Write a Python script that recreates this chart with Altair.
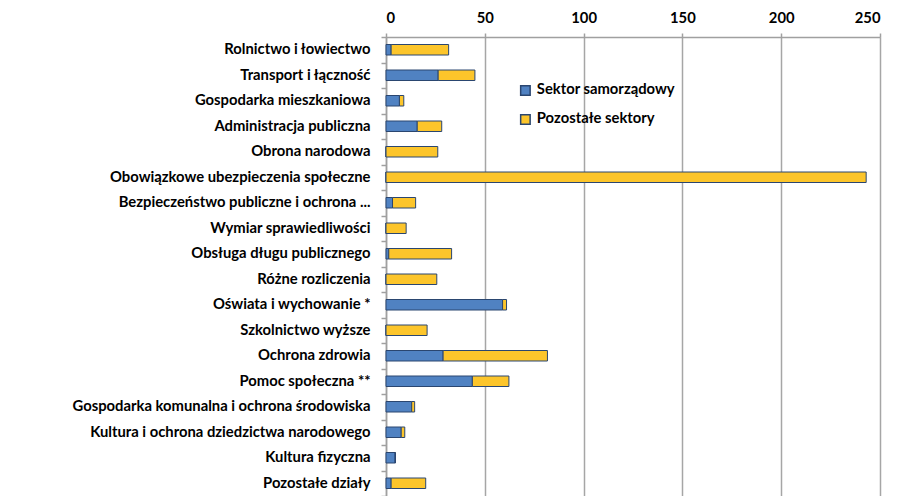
import altair as alt
import pandas as pd

categories = [
    "Rolnictwo i łowiectwo",
    "Transport i łączność",
    "Gospodarka mieszkaniowa",
    "Administracja publiczna",
    "Obrona narodowa",
    "Obowiązkowe ubezpieczenia społeczne",
    "Bezpieczeństwo publiczne i ochrona ...",
    "Wymiar sprawiedliwości",
    "Obsługa długu publicznego",
    "Różne rozliczenia",
    "Oświata i wychowanie *",
    "Szkolnictwo wyższe",
    "Ochrona zdrowia",
    "Pomoc społeczna **",
    "Gospodarka komunalna i ochrona środowiska",
    "Kultura i ochrona dziedzictwa narodowego",
    "Kultura fizyczna",
    "Pozostałe działy",
]
samorzadowy = [2.6, 26.4, 6.8, 15.8, 0.0, 0.0, 3.3, 0.0, 1.4, 0.0, 59.0, 0.0, 28.9, 43.7, 13.0, 7.7, 4.6, 2.6]
pozostale = [29.1, 18.6, 2.2, 12.4, 26.2, 243.0, 11.7, 10.2, 31.8, 25.7, 2.0, 20.8, 52.8, 18.5, 1.5, 1.8, 0.2, 17.5]

series_names = ["Sektor samorządowy", "Pozostałe sektory"]
series_colors = ["#5082C2", "#FCC52B"]
x_ticks = [0, 50, 100, 150, 200, 250]

rows = []
for i, c in enumerate(categories):
    rows.append({"kat": c, "seria": series_names[0], "wartosc": samorzadowy[i], "ord": 0})
    rows.append({"kat": c, "seria": series_names[1], "wartosc": pozostale[i], "ord": 1})
df = pd.DataFrame(rows)

font = "Lato"
fs = 14.8

bars = alt.Chart(df).mark_bar(size=10.5, stroke="#2A4670", strokeWidth=1).encode(
    y=alt.Y("kat:N", sort=categories, title=None,
            scale=alt.Scale(paddingInner=0, paddingOuter=0),
            axis=alt.Axis(tickBand="extent", labelLimit=0, labelFont=font, labelFontSize=fs,
                          labelFontWeight="bold", labelColor="#000000", labelPadding=11,
                          tickSize=5, tickColor="#A0A0A0", tickWidth=1.5,
                          domainColor="#A0A0A0", domainWidth=1.5, grid=False)),
    x=alt.X("wartosc:Q", stack="zero", title=None,
            scale=alt.Scale(domain=[0, 250], nice=False),
            axis=alt.Axis(orient="top", values=x_ticks, labelFont=font, labelFontSize=fs,
                          labelFontWeight="bold", labelColor="#000000", labelPadding=8,
                          tickSize=4, tickColor="#A0A0A0", tickWidth=1.5,
                          domainColor="#A0A0A0", domainWidth=1.5,
                          grid=True, gridColor="#A6A6A6", gridWidth=1.5)),
    color=alt.Color("seria:N", title=None,
                    scale=alt.Scale(domain=series_names, range=series_colors),
                    legend=alt.Legend(orient="none", legendX=132, legendY=46,
                                      symbolType="square", symbolSize=90,
                                      symbolStrokeColor="#2A4670", symbolStrokeWidth=1.5,
                                      labelFont=font, labelFontSize=fs, labelFontWeight="bold",
                                      labelColor="#000000", rowPadding=12, padding=0,
                                      labelOffset=4)),
    order=alt.Order("ord:Q"),
)

top_line = alt.Chart(pd.DataFrame({"v": [0]})).mark_rule(color="#DDDDDD", strokeWidth=1).encode(
    x=alt.value(-380), x2=alt.value(520), y=alt.value(-33)
)

chart = alt.layer(top_line, bars).properties(
    width=494,
    height=459,
    autosize=alt.AutoSizeParams(type="none"),
    padding={"left": 378, "top": 29, "right": 10, "bottom": 0},
).configure_view(stroke=None).configure(background="#FFFFFF")

chart.save("out.html", embed_options={"renderer": "svg", "actions": False})
